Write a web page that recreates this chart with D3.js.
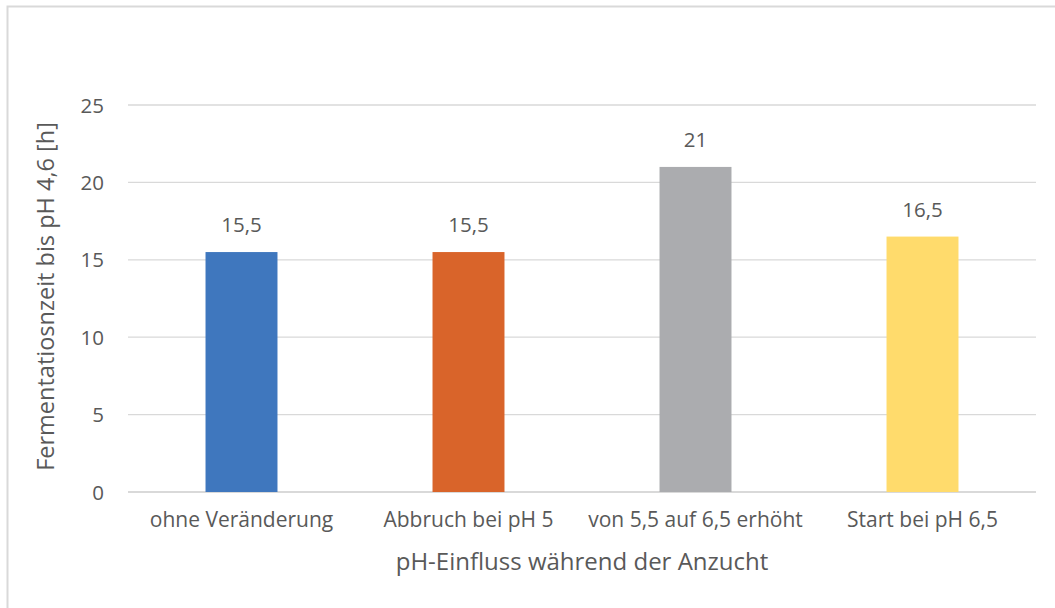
<!DOCTYPE html>
<html>
<head>
<meta charset="utf-8">
<script src="https://cdn.jsdelivr.net/npm/d3@7"></script>
<style>
	body { margin: 0; background: #fff; }
	svg text { font-family: "Open Sans", sans-serif; fill: #595959; }
</style>
</head>
<body>
<div id="chart"></div>
<script>
// Daten
const categories = ["ohne Veränderung", "Abbruch bei pH 5", "von 5,5 auf 6,5 erhöht", "Start bei pH 6,5"];
const values = [15.5, 15.5, 21, 16.5];
const barColors = ["#3F77BE", "#D9642A", "#ABACAF", "#FFDB6C"];
const yTicks = [0, 5, 10, 15, 20, 25];

const width = 1055, height = 608;
const margin = { top: 105, right: 19, bottom: 116, left: 128 };
const innerW = width - margin.left - margin.right;
const innerH = height - margin.top - margin.bottom;

const svg = d3.select("#chart")
	.append("svg")
	.attr("width", width)
	.attr("height", height);

// Rahmen
svg.append("rect")
	.attr("x", 7.5)
	.attr("y", 6.5)
	.attr("width", width + 10)
	.attr("height", height + 10)
	.attr("fill", "none")
	.attr("stroke", "#d9d9d9")
	.attr("stroke-width", 2);

const g = svg.append("g")
	.attr("transform", `translate(${margin.left}, ${margin.top})`);

const x = d3.scaleBand().domain(categories).range([0, innerW]).paddingInner(0).paddingOuter(0);
const y = d3.scaleLinear().domain([0, 25]).range([innerH, 0]);

// Gitterlinien
g.selectAll(".grid")
	.data(yTicks)
	.enter()
	.append("line")
	.attr("class", "grid")
	.attr("x1", 0)
	.attr("x2", innerW)
	.attr("y1", d => y(d))
	.attr("y2", d => y(d))
	.attr("stroke", "#d9d9d9")
	.attr("stroke-width", d => d === 0 ? 2 : 1.3);

const yAxis = g.append("g")
	.call(d3.axisLeft(y).tickValues(yTicks).tickSize(0).tickPadding(24));
yAxis.select(".domain").remove();
yAxis.selectAll("text")
	.style("font-size", "20.5px")
	.attr("dy", "0.35em")
	.style("fill", "#595959");

const barW = x.bandwidth() * 0.317;

g.selectAll(".bar")
	.data(values)
	.enter()
	.append("rect")
	.attr("class", "bar")
	.attr("x", (d, i) => x(categories[i]) + (x.bandwidth() - barW) / 2)
	.attr("y", d => y(d))
	.attr("width", barW)
	.attr("height", d => innerH - y(d))
	.attr("fill", (d, i) => barColors[i]);

g.selectAll(".label")
	.data(values)
	.enter()
	.append("text")
	.attr("class", "label")
	.attr("x", (d, i) => x(categories[i]) + x.bandwidth() / 2)
	.attr("y", d => y(d) - 20)
	.attr("text-anchor", "middle")
	.style("font-size", "20.5px")
	.text(d => String(d).replace(".", ","));

const xAxis = g.append("g")
	.attr("transform", `translate(0, ${innerH})`)
	.call(d3.axisBottom(x).tickSize(0).tickPadding(20));
xAxis.select(".domain").remove();
xAxis.selectAll("text")
	.style("font-size", "21px")
	.style("fill", "#595959");

// Achsentitel
svg.append("text")
	.attr("x", margin.left + innerW / 2)
	.attr("y", 570)
	.attr("text-anchor", "middle")
	.style("font-size", "24px")
	.text("pH-Einfluss während der Anzucht");

svg.append("text")
	.attr("transform", `translate(54, ${margin.top + innerH / 2 - 2}) rotate(-90)`)
	.attr("text-anchor", "middle")
	.style("font-size", "23.5px")
	.text("Fermentatiosnzeit bis pH 4,6 [h]");
</script>
</body>
</html>
